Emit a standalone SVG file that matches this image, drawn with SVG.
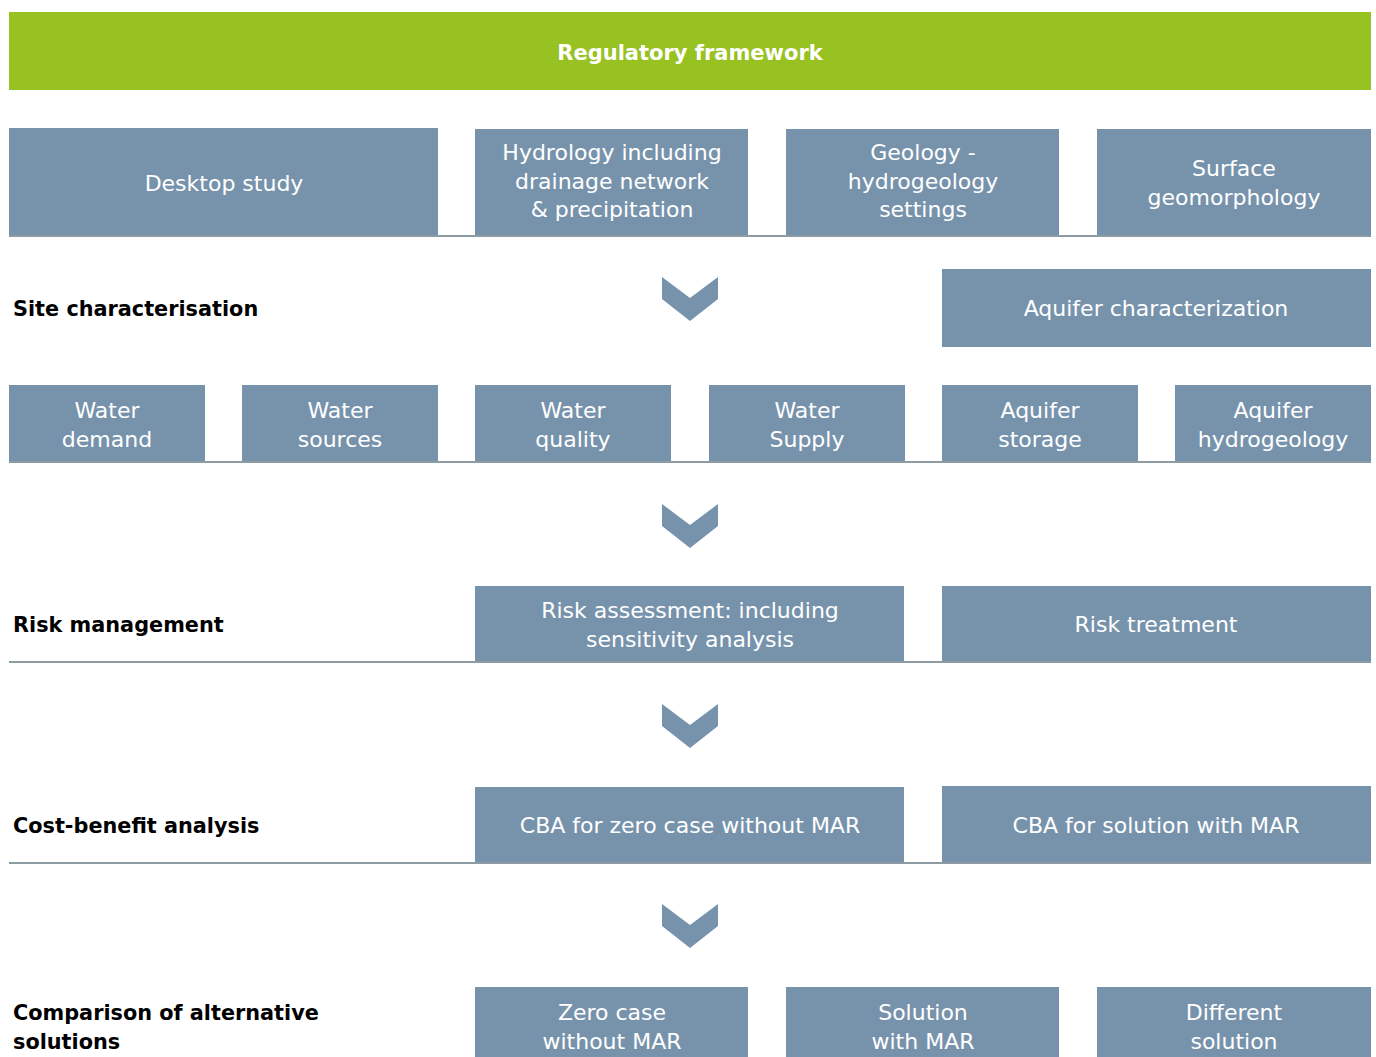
<svg xmlns="http://www.w3.org/2000/svg" width="1376" height="1057" viewBox="0 0 1376 1057">
  <style>
    .box { fill: #7793ac; }
    .head { fill: #98c221; }
    .t { font-family: "DejaVu Sans", Verdana, sans-serif; font-size: 22px; fill: #ffffff; text-anchor: middle; }
    .tb { font-family: "DejaVu Sans", Verdana, sans-serif; font-size: 21px; font-weight: bold; fill: #ffffff; text-anchor: middle; }
    .lbl { font-family: "DejaVu Sans", Verdana, sans-serif; font-size: 20.8px; font-weight: bold; fill: #000000; }
    .rule { stroke: #8d9ca2; stroke-width: 2; }
    .chev { fill: #7793ac; }
  </style>
  <defs>
    <polygon id="chevron" class="chev" points="-28,0 0,21 28,0 28,22 0,44 -28,22"/>
  </defs>

  <!-- header bar -->
  <g id="regulatory">
    <rect class="head" x="9" y="12" width="1362" height="78"/>
    <text class="tb" x="690" y="60">Regulatory framework</text>
  </g>

  <!-- row 1: desktop study inputs -->
  <g id="desktop">
    <rect class="box" x="9" y="128" width="429" height="108"/>
    <text class="t" x="224" y="191">Desktop study</text>
  </g>
  <g id="hydrology">
    <rect class="box" x="475" y="129" width="273" height="107"/>
    <text class="t" x="612" y="160">Hydrology including</text>
    <text class="t" x="612" y="189">drainage network</text>
    <text class="t" x="612" y="217">&amp; precipitation</text>
  </g>
  <g id="geology">
    <rect class="box" x="786" y="129" width="273" height="107"/>
    <text class="t" x="923" y="160">Geology -</text>
    <text class="t" x="923" y="189">hydrogeology</text>
    <text class="t" x="923" y="217">settings</text>
  </g>
  <g id="surface">
    <rect class="box" x="1097" y="129" width="274" height="107"/>
    <text class="t" x="1234" y="176">Surface</text>
    <text class="t" x="1234" y="205">geomorphology</text>
  </g>

  <!-- site characterisation -->
  <g id="site-label">
    <text class="lbl" x="13" y="316">Site characterisation</text>
  </g>
  <g id="aquifer-char">
    <rect class="box" x="942" y="269" width="429" height="78"/>
    <text class="t" x="1156" y="316">Aquifer characterization</text>
  </g>

  <!-- row 2 -->
  <g id="water-demand">
    <rect class="box" x="9" y="385" width="196" height="77"/>
    <text class="t" x="107" y="418">Water</text>
    <text class="t" x="107" y="447">demand</text>
  </g>
  <g id="water-sources">
    <rect class="box" x="242" y="385" width="196" height="77"/>
    <text class="t" x="340" y="418">Water</text>
    <text class="t" x="340" y="447">sources</text>
  </g>
  <g id="water-quality">
    <rect class="box" x="475" y="385" width="196" height="77"/>
    <text class="t" x="573" y="418">Water</text>
    <text class="t" x="573" y="447">quality</text>
  </g>
  <g id="water-supply">
    <rect class="box" x="709" y="385" width="196" height="77"/>
    <text class="t" x="807" y="418">Water</text>
    <text class="t" x="807" y="447">Supply</text>
  </g>
  <g id="aquifer-storage">
    <rect class="box" x="942" y="385" width="196" height="77"/>
    <text class="t" x="1040" y="418">Aquifer</text>
    <text class="t" x="1040" y="447">storage</text>
  </g>
  <g id="aquifer-hydro">
    <rect class="box" x="1175" y="385" width="196" height="77"/>
    <text class="t" x="1273" y="418">Aquifer</text>
    <text class="t" x="1273" y="447">hydrogeology</text>
  </g>

  <!-- risk management -->
  <g id="risk-label">
    <text class="lbl" x="13" y="632">Risk management</text>
  </g>
  <g id="risk-assessment">
    <rect class="box" x="475" y="586" width="429" height="76"/>
    <text class="t" x="690" y="618">Risk assessment: including</text>
    <text class="t" x="690" y="647">sensitivity analysis</text>
  </g>
  <g id="risk-treatment">
    <rect class="box" x="942" y="586" width="429" height="76"/>
    <text class="t" x="1156" y="632">Risk treatment</text>
  </g>

  <!-- cost-benefit analysis -->
  <g id="cba-label">
    <text class="lbl" x="13" y="833">Cost-benefit analysis</text>
  </g>
  <g id="cba-zero">
    <rect class="box" x="475" y="787" width="429" height="76"/>
    <text class="t" x="690" y="833">CBA for zero case without MAR</text>
  </g>
  <g id="cba-mar">
    <rect class="box" x="942" y="786" width="429" height="76"/>
    <text class="t" x="1156" y="833">CBA for solution with MAR</text>
  </g>

  <!-- comparison of alternatives -->
  <g id="comparison-label">
    <text class="lbl" x="13" y="1020">Comparison of alternative</text>
    <text class="lbl" x="13" y="1049">solutions</text>
  </g>
  <g id="zero-case">
    <rect class="box" x="475" y="987" width="273" height="80"/>
    <text class="t" x="612" y="1020">Zero case</text>
    <text class="t" x="612" y="1049">without MAR</text>
  </g>
  <g id="solution-mar">
    <rect class="box" x="786" y="987" width="273" height="80"/>
    <text class="t" x="923" y="1020">Solution</text>
    <text class="t" x="923" y="1049">with MAR</text>
  </g>
  <g id="different">
    <rect class="box" x="1097" y="987" width="274" height="80"/>
    <text class="t" x="1234" y="1020">Different</text>
    <text class="t" x="1234" y="1049">solution</text>
  </g>

  <!-- connectors: baselines under each stage and step chevrons -->
  <g id="connectors">
    <line class="rule" x1="9" y1="236" x2="1371" y2="236"/>
    <line class="rule" x1="9" y1="462" x2="1371" y2="462"/>
    <line class="rule" x1="9" y1="662" x2="1371" y2="662"/>
    <line class="rule" x1="9" y1="863" x2="1371" y2="863"/>
    <use href="#chevron" x="690" y="277"/>
    <use href="#chevron" x="690" y="504"/>
    <use href="#chevron" x="690" y="704"/>
    <use href="#chevron" x="690" y="904"/>
  </g>
</svg>
